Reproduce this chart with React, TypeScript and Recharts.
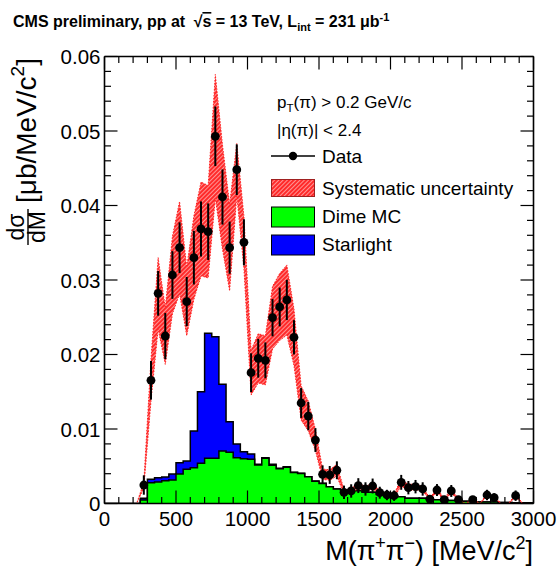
import React from "react";
import { ComposedChart, Area, Line, Scatter, ErrorBar, XAxis, YAxis } from "recharts";

const FONT = "'Liberation Sans', Arial, Helvetica, sans-serif";

// 50 MeV bins from 0 to 3000
const binWidth = 50;
const binLow = Array.from({ length: 60 }, (_, i) => i * binWidth);
const centers = binLow.map((x) => x + binWidth / 2);

// Dime MC (green), per bin
const dimeMC = [
  0, 0, 0, 0, 0,
  0.00047, 0.0028, 0.0029, 0.00306, 0.00315, 0.00396, 0.00459, 0.0048, 0.0054, 0.00607,
  0.00607, 0.00705, 0.00687, 0.00615, 0.00602, 0.00593, 0.00517, 0.00607, 0.00515, 0.00465,
  0.00488, 0.00415, 0.00402, 0.00358, 0.003, 0.0027, 0.00225, 0.00195, 0.0018, 0.0018,
  0.0017, 0.0015, 0.0015, 0.0012, 0.0011, 0.001, 0.0009, 0.0007, 0.0007, 0.0007,
  0.0006, 0.0005, 0.0005, 0.0004, 0.0004, 0.0003, 0.0003, 0.0002, 0.0002, 0.0002,
  0.00015, 0.00015, 0.0001, 0.0001, 0.0001,
];

// Starlight (blue), stacked on top of Dime MC
const starlight = [
  0, 0, 0, 0, 0,
  0.00023, 0.00045, 0.00057, 0.0005, 0.00081, 0.00152, 0.00111, 0.00493, 0.0096, 0.01677,
  0.01632, 0.00895, 0.00411, 0.00184, 0.00093, 0.00071, 0.00009, 0.00008, 0.00011, 0.00007,
  0.00006, 0.00003, 0.00003, 0.00002, 0.00002, 0.00001, 0, 0, 0, 0,
  0, 0, 0, 0, 0, 0, 0, 0, 0, 0,
  0, 0, 0, 0, 0, 0, 0, 0, 0, 0,
  0, 0, 0, 0, 0,
];

// measured cross section at bin centres (null = empty bin)
const dataY = [
  null, null, null, null, null,
  0.00248, 0.01654, 0.02821, 0.02248, 0.03067, 0.03434, 0.02711, 0.033, 0.03685, 0.03648,
  0.04929, 0.04114, 0.03434, 0.04481, 0.03506, 0.01756, 0.01949, 0.01922, 0.02494, 0.02638,
  0.02732, 0.02231, 0.01349, 0.01174, 0.00852, 0.00392, 0.00383, 0.00446, 0.0015, 0.00168,
  0.0024, 0.00195, 0.00235, 0.00145, 0.00114, 0.00105, 0.00284, 0.00212, 0.00226, 0.00195,
  0.0006, 0.00181, 0.00051, 0.00168, 0.00051, null, 0.00051, null, 0.00114, 0.00078,
  null, null, 0.00105, null, null,
];

// statistical errors
const statErr = [
  null, null, null, null, null,
  0.0013, 0.0026, 0.003, 0.0031, 0.0032, 0.0034, 0.0033, 0.0036, 0.0037, 0.0038,
  0.004, 0.0037, 0.0035, 0.0034, 0.0031, 0.0026, 0.0026, 0.0024, 0.0025, 0.0026,
  0.0027, 0.0023, 0.002, 0.0019, 0.0016, 0.0012, 0.0012, 0.0012, 0.0009, 0.0009,
  0.001, 0.0009, 0.001, 0.0008, 0.0007, 0.0007, 0.001, 0.0009, 0.0009, 0.0009,
  0.0005, 0.0008, 0.0005, 0.0008, 0.0005, null, 0.0005, null, 0.0007, 0.0006,
  null, null, 0.0007, null, null,
];

// systematic uncertainty (half width of the band)
const sysErr = [
  0, 0, 0, 0, 0,
  0.0004, 0.0028, 0.0048, 0.0038, 0.0052, 0.0062, 0.0046, 0.0056, 0.0063, 0.0062,
  0.0083, 0.007, 0.0058, 0.0035, 0.0035, 0.003, 0.0033, 0.0033, 0.0042, 0.0045,
  0.0047, 0.0038, 0.0023, 0.002, 0.0014, 0.0007, 0.0007, 0.0008, 0.0003, 0.0003,
  0.0004, 0.0003, 0.0004, 0.00025, 0.0002, 0.0002, 0.0005, 0.0004, 0.0004, 0.0003,
  0.0001, 0.0003, 0.0001, 0.0003, 0.0001, 0, 0.0001, 0, 0.0002, 0.00013,
  0, 0, 0.0002, 0, 0,
];

const xTicks = Array.from({ length: 31 }, (_, i) => i * 100);
const xMajorTicks = [0, 500, 1000, 1500, 2000, 2500, 3000];
const yTicks = Array.from({ length: 31 }, (_, i) => +(i * 0.002).toFixed(3));
const yMajorTicks = [0, 0.01, 0.02, 0.03, 0.04, 0.05, 0.06];

const histData = [...binLow, 3000].map((x, i) => {
  const k = Math.min(i, binLow.length - 1);
  return { x, dime: dimeMC[k], total: dimeMC[k] + starlight[k] };
});

const bandData = centers.map((x, i) => {
  const v = dataY[i] ?? 0;
  return { x, band: [Math.max(0, v - sysErr[i]), v + sysErr[i]] };
});

const pointData = centers
  .map((x, i) => ({ x, y: dataY[i], err: statErr[i] }))
  .filter((d) => d.y !== null);

const isYMajor = (v: number) => yMajorTicks.some((m) => Math.abs(m - v) < 1e-9);

const BottomTick = (props: any) => {
  const { x, y, payload } = props;
  const major = xMajorTicks.includes(payload.value);
  return (
    <g>
      <line x1={x} x2={x} y1={y} y2={y - (major ? 13 : 6.5)} stroke="#000" strokeWidth={1.2} />
      {major && (
        <text x={x} y={y + 22} textAnchor="middle" fontSize={20.5} fontFamily={FONT} fill="#000">
          {payload.value}
        </text>
      )}
    </g>
  );
};

const TopTick = (props: any) => {
  const { x, y, payload } = props;
  const major = xMajorTicks.includes(payload.value);
  return <line x1={x} x2={x} y1={y} y2={y + (major ? 13 : 6.5)} stroke="#000" strokeWidth={1.2} />;
};

const LeftTick = (props: any) => {
  const { x, y, payload } = props;
  const major = isYMajor(payload.value);
  return (
    <g>
      <line x1={x} x2={x + (major ? 13 : 6.5)} y1={y} y2={y} stroke="#000" strokeWidth={1.2} />
      {major && (
        <text x={x - 4} y={y + 7.5} textAnchor="end" fontSize={20.5} fontFamily={FONT} fill="#000">
          {payload.value === 0 ? "0" : payload.value.toFixed(2)}
        </text>
      )}
    </g>
  );
};

const RightTick = (props: any) => {
  const { x, y, payload } = props;
  const major = isYMajor(payload.value);
  return <line x1={x} x2={x - (major ? 13 : 6.5)} y1={y} y2={y} stroke="#000" strokeWidth={1.2} />;
};

const Hatch = ({ id }: { id: string }) => (
  <pattern id={id} width="3" height="3" patternUnits="userSpaceOnUse" patternTransform="rotate(45)">
    <rect width="3" height="3" fill="#ff2a2a" />
    <line x1="0" y1="0" x2="0" y2="3" stroke="#ffffff" strokeWidth="1" />
  </pattern>
);

const axisLine = { stroke: "#000", strokeWidth: 1.6 };

export default function App() {
  return (
    <div style={{ position: "absolute", left: 0, top: 0, width: 557, height: 567, background: "#fff" }}>
      <ComposedChart
        width={557}
        height={567}
        margin={{ top: 55.5, right: 22.5, bottom: 62.5, left: 103.5 }}
      >
        <defs>
          <Hatch id="hatch" />
        </defs>
        <Area
          data={histData}
          dataKey="total"
          type="stepAfter"
          fill="#0000ff"
          fillOpacity={1}
          stroke="#000"
          strokeWidth={1.5}
          baseValue={0}
          dot={false}
          activeDot={false}
          isAnimationActive={false}
        />
        <Area
          data={histData}
          dataKey="dime"
          type="stepAfter"
          fill="#00ff00"
          fillOpacity={1}
          stroke="#000"
          strokeWidth={1.5}
          baseValue={0}
          dot={false}
          activeDot={false}
          isAnimationActive={false}
        />
        <Area
          data={bandData}
          dataKey="band"
          type="linear"
          fill="url(#hatch)"
          fillOpacity={1}
          stroke="#ff2020"
          strokeWidth={1}
          strokeDasharray="1.5 1.5"
          dot={false}
          activeDot={false}
          isAnimationActive={false}
        />
        <Scatter
          data={pointData}
          dataKey="y"
          isAnimationActive={false}
          shape={(p: any) => <circle cx={p.cx} cy={p.cy} r={4.4} fill="#000" />}
        >
          <ErrorBar dataKey="err" direction="y" width={0} stroke="#000" strokeWidth={2} />
        </Scatter>
        <Line
          xAxisId="top"
          yAxisId="right"
          data={histData}
          dataKey="dime"
          stroke="none"
          dot={false}
          activeDot={false}
          isAnimationActive={false}
        />
        <XAxis
          type="number"
          dataKey="x"
          domain={[0, 3000]}
          ticks={xTicks}
          interval={0}
          height={1}
          tickSize={0}
          tickMargin={0}
          tickLine={false}
          axisLine={axisLine}
          tick={BottomTick}
          allowDataOverflow
        />
        <XAxis
          xAxisId="top"
          orientation="top"
          type="number"
          dataKey="x"
          domain={[0, 3000]}
          ticks={xTicks}
          interval={0}
          height={1}
          tickSize={0}
          tickMargin={0}
          tickLine={false}
          axisLine={axisLine}
          tick={TopTick}
          allowDataOverflow
        />
        <YAxis
          type="number"
          domain={[0, 0.06]}
          ticks={yTicks}
          interval={0}
          width={1}
          tickSize={0}
          tickMargin={0}
          tickLine={false}
          axisLine={axisLine}
          tick={LeftTick}
          allowDataOverflow
        />
        <YAxis
          yAxisId="right"
          orientation="right"
          type="number"
          domain={[0, 0.06]}
          ticks={yTicks}
          interval={0}
          width={1}
          tickSize={0}
          tickMargin={0}
          tickLine={false}
          axisLine={axisLine}
          tick={RightTick}
          allowDataOverflow
        />
      </ComposedChart>

      <svg
        width={557}
        height={567}
        style={{ position: "absolute", left: 0, top: 0, pointerEvents: "none" }}
        fontFamily={FONT}
      >
        <defs>
          <Hatch id="hatchLegend" />
        </defs>
        {/* title */}
        <text x={13} y={27} fontSize={16} fontWeight={700}>
          CMS preliminary, pp at <tspan dx={4}>√</tspan>
          <tspan style={{ textDecoration: "overline" }}>s</tspan> = 13 TeV, L
          <tspan fontSize={11} dy={4}>int</tspan>
          <tspan dy={-4}> = 231 μb</tspan>
          <tspan fontSize={11} dy={-6}>-1</tspan>
        </text>

        {/* y title */}
        <g transform="translate(0,246) rotate(-90)">
          <text x={19} y={24} textAnchor="middle" fontSize={23}>dσ</text>
          <line x1={1} x2={37} y1={28} y2={28} stroke="#000" strokeWidth={1.4} />
          <text x={19} y={45} textAnchor="middle" fontSize={23}>dM</text>
          <text x={43} y={36} fontSize={28}>
            [μb/MeV/c<tspan fontSize={19} dy={-12}>2</tspan>
            <tspan dy={12}>]</tspan>
          </text>
        </g>

        {/* x title */}
        <text x={533} y={560} textAnchor="end" fontSize={27}>
          M(π<tspan fontSize={18} dy={-11}>+</tspan>
          <tspan dy={11}>π</tspan>
          <tspan fontSize={18} dy={-11}>−</tspan>
          <tspan dy={11}>) [MeV/c</tspan>
          <tspan fontSize={18} dy={-11}>2</tspan>
          <tspan dy={11}>]</tspan>
        </text>

        {/* legend */}
        <text x={277} y={108} fontSize={17}>
          p<tspan fontSize={11.5} dy={4}>T</tspan>
          <tspan dy={-4}>(π) &gt; 0.2 GeV/c</tspan>
        </text>
        <text x={277} y={136} fontSize={17}>|η(π)| &lt; 2.4</text>

        <line x1={271} x2={315} y1={156} y2={156} stroke="#000" strokeWidth={1.5} />
        <circle cx={293} cy={156} r={4.2} fill="#000" />
        <text x={322} y={163} fontSize={19}>Data</text>

        <rect x={271.5} y={179.5} width={43} height={17} fill="url(#hatchLegend)" stroke="#a02020" strokeWidth={1} />
        <text x={322} y={195} fontSize={19}>Systematic uncertainty</text>

        <rect x={271.5} y={207} width={43} height={20} fill="#00ff00" stroke="#000" strokeWidth={1} />
        <text x={322} y={223} fontSize={19}>Dime MC</text>

        <rect x={271.5} y={235} width={43} height={20} fill="#0000ff" stroke="#000" strokeWidth={1} />
        <text x={322} y={251} fontSize={19}>Starlight</text>
      </svg>
    </div>
  );
}
